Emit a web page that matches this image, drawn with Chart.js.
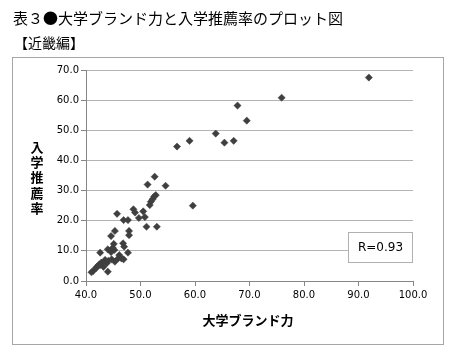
<!DOCTYPE html>
<html>
<head>
<meta charset="utf-8">
<script src="https://cdn.jsdelivr.net/npm/chart.js@4"></script>
<style>
  body { margin: 0; background: #fff; }
  #wrap { position: relative; width: 462px; height: 362px; }
</style>
</head>
<body>
<div id="wrap"><canvas id="plot" width="462" height="362"></canvas></div>
<script>
const brand = [
    91.9, 75.9, 67.8, 69.5, 63.8, 67.1, 65.4, 59.0, 56.7, 52.6,
    51.3, 54.6, 52.8, 52.5, 52.2, 51.9, 51.7, 59.6, 48.7, 49.0,
    50.5, 50.8, 49.7, 45.7, 46.9, 47.7, 51.1, 53.0, 45.3, 47.9,
    47.9, 44.6, 45.1, 46.8, 47.0, 47.7, 42.6, 44.0, 44.6, 45.2,
    44.9, 46.1, 45.9, 46.5, 46.9, 43.5, 44.1, 44.7, 45.3, 42.6,
    43.2, 43.8, 42.8, 44.0, 42.0, 42.3, 41.3, 41.8, 41.0
]
const suisen = [
    67.5, 60.8, 58.2, 53.2, 48.9, 46.5, 45.9, 46.5, 44.6, 34.6,
    32.0, 31.6, 28.5, 28.0, 27.1, 26.3, 25.2, 25.0, 23.8, 22.7,
    23.1, 21.2, 20.9, 22.3, 20.2, 20.2, 18.0, 18.0, 16.6, 16.6,
    15.2, 14.9, 12.3, 12.5, 11.4, 9.4, 9.4, 10.5, 9.6, 10.3,
    11.0, 8.6, 7.5, 7.5, 7.2, 7.0, 6.7, 7.2, 6.4, 5.3,
    4.7, 5.9, 6.1, 3.1, 4.7, 5.3, 3.3, 4.2, 2.9
]
const xTicks = [40, 50, 60, 70, 80, 90, 100]
const yTicks = [0, 10, 20, 30, 40, 50, 60, 70]

const points = brand.map((b, i) => ({ x: b, y: suisen[i] }))

const jp = '"Noto Sans CJK JP", sans-serif'

// titles, frame, stacked y title and the R box
const decor = {
    id: 'decor',
    afterDraw(chart) {
        const ctx = chart.ctx
        ctx.save()
        ctx.strokeStyle = '#a6a6a6'
        ctx.lineWidth = 1
        ctx.strokeRect(12.5, 57.5, 431, 287)

        ctx.fillStyle = '#000'
        ctx.textBaseline = 'middle'
        ctx.textAlign = 'left'
        ctx.font = '15px ' + jp
        ctx.fillText('表３●大学ブランド力と入学推薦率のプロット図', 13, 18)
        ctx.font = '14px ' + jp
        ctx.fillText('【近畿編】', 14, 43)

        ctx.font = 'bold 13px ' + jp
        ctx.textAlign = 'center'
        const chars = ['入', '学', '推', '薦', '率']
        chars.forEach((c, i) => ctx.fillText(c, 37, 147 + i * 15.2))
        ctx.fillText('大学ブランド力', 248, 320)

        ctx.strokeStyle = '#b0b0b0'
        ctx.fillStyle = '#fff'
        ctx.fillRect(348.5, 232.5, 64, 30)
        ctx.strokeRect(348.5, 232.5, 64, 30)
        ctx.fillStyle = '#000'
        ctx.font = '12px "DejaVu Sans", sans-serif'
        ctx.fillText('R=0.93', 380.5, 248)
        ctx.restore()
    }
}

new Chart(document.getElementById('plot'), {
    type: 'scatter',
    data: {
        datasets: [{
            data: points,
            pointStyle: 'rectRot',
            pointRadius: 3.6,
            backgroundColor: '#3f3f3f',
            borderColor: '#3f3f3f',
            borderWidth: 0.5
        }]
    },
    options: {
        responsive: false,
        animation: false,
        layout: { padding: { left: 30, top: 70, right: 49, bottom: 31 } },
        plugins: { legend: { display: false }, tooltip: { enabled: false } },
        scales: {
            x: {
                type: 'linear',
                min: 40, max: 100,
                afterBuildTicks: s => { s.ticks = xTicks.map(v => ({ value: v })) },
                afterFit: s => { s.height = 50 },
                border: { color: '#868686' },
                grid: { drawOnChartArea: false, drawTicks: true, tickLength: 5, color: '#868686' },
                ticks: {
                    color: '#000', padding: 3,
                    font: { family: '"DejaVu Sans"', size: 10 },
                    callback: v => v.toFixed(1)
                }
            },
            y: {
                type: 'linear',
                min: 0, max: 70,
                afterBuildTicks: s => { s.ticks = yTicks.map(v => ({ value: v })) },
                afterFit: s => { s.width = 56 },
                border: { color: '#868686' },
                grid: { color: '#b4b4b4', tickColor: '#868686', drawTicks: true, tickLength: 5 },
                ticks: {
                    color: '#000', padding: 2,
                    font: { family: '"DejaVu Sans"', size: 10 },
                    callback: v => v.toFixed(1)
                }
            }
        }
    },
    plugins: [decor]
})
</script>
</body>
</html>
